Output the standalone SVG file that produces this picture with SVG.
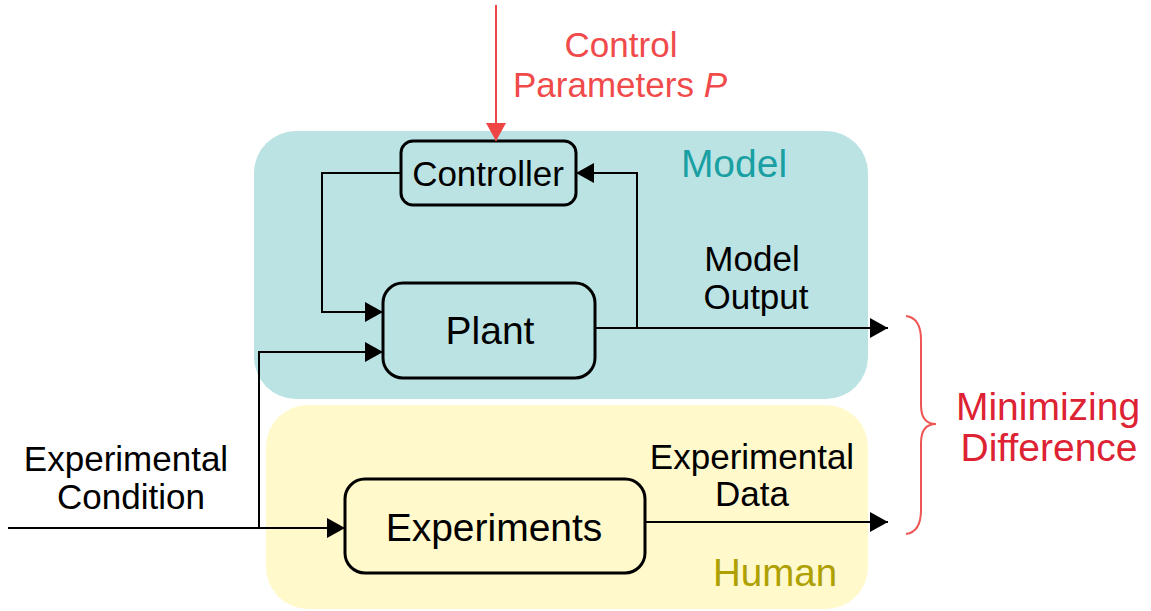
<svg xmlns="http://www.w3.org/2000/svg" width="1151" height="611" viewBox="0 0 1151 611">
<defs>
<style>
.box{fill:none;stroke:#000;stroke-width:3}
.ln{fill:none;stroke:#000;stroke-width:2}
.t{font-family:"Liberation Sans",Arial,sans-serif;fill:#000;text-anchor:middle}
</style>
<marker id="ahb" viewBox="0 0 18 20" refX="18" refY="10" markerWidth="18" markerHeight="20" orient="auto" markerUnits="userSpaceOnUse">
<path d="M0,0 L18,10 L0,20 Z" fill="#000"/>
</marker>
<marker id="ahr" viewBox="0 0 18 20" refX="18" refY="10" markerWidth="18" markerHeight="20" orient="auto" markerUnits="userSpaceOnUse">
<path d="M0,0 L18,10 L0,20 Z" fill="#ee4444"/>
</marker>
</defs>
<g id="model-region">
<rect x="254" y="131" width="614" height="268" rx="42" fill="#bbe3e3"/>
<text class="t" x="734" y="177" font-size="39" style="fill:#1a9fa3">Model</text>
</g>
<g id="human-region">
<rect x="266" y="405" width="602" height="204" rx="42" fill="#fff9cc"/>
<text class="t" x="775" y="586" font-size="38.5" style="fill:#aea000">Human</text>
</g>
<g id="controller">
<rect class="box" x="401" y="141" width="175" height="64" rx="12"/>
<text class="t" x="488" y="186" font-size="35">Controller</text>
</g>
<g id="plant">
<rect class="box" x="383" y="283" width="212" height="95" rx="20"/>
<text class="t" x="490" y="344" font-size="39">Plant</text>
</g>
<g id="experiments">
<rect class="box" x="345" y="479" width="300" height="94" rx="20"/>
<text class="t" x="494" y="541" font-size="39">Experiments</text>
</g>
<g id="connectors">
<path class="ln" d="M496,5 V141" style="stroke:#ee4444" marker-end="url(#ahr)"/>
<path class="ln" d="M401,173 H322 V312 H383" marker-end="url(#ahb)"/>
<path class="ln" d="M595,328 H888" marker-end="url(#ahb)"/>
<path class="ln" d="M637,328 V173 H576" marker-end="url(#ahb)"/>
<path class="ln" d="M8,528 H345" marker-end="url(#ahb)"/>
<path class="ln" d="M259,528 V352 H383" marker-end="url(#ahb)"/>
<path class="ln" d="M645,522 H888" marker-end="url(#ahb)"/>
<path d="M906,316 Q921,318 921,340 V405 Q921,424 936,424 Q921,424 921,443 V510 Q921,532 906,534" fill="none" stroke="#ee5555" stroke-width="2"/>
</g>
<g id="labels">
<text class="t" x="621" y="57" font-size="35" style="fill:#f04a4a">Control</text>
<text class="t" x="620" y="97" font-size="35" style="fill:#f04a4a">Parameters <tspan font-style="italic">P</tspan></text>
<text class="t" x="752" y="271" font-size="35">Model</text>
<text class="t" x="756" y="309" font-size="35">Output</text>
<text class="t" x="752" y="469" font-size="35">Experimental</text>
<text class="t" x="752" y="506" font-size="35">Data</text>
<text class="t" x="126" y="471" font-size="35">Experimental</text>
<text class="t" x="131" y="509" font-size="35">Condition</text>
<text class="t" x="1048" y="420" font-size="39" style="fill:#dd2233">Minimizing</text>
<text class="t" x="1049" y="461" font-size="39" style="fill:#dd2233">Difference</text>
</g>
</svg>
